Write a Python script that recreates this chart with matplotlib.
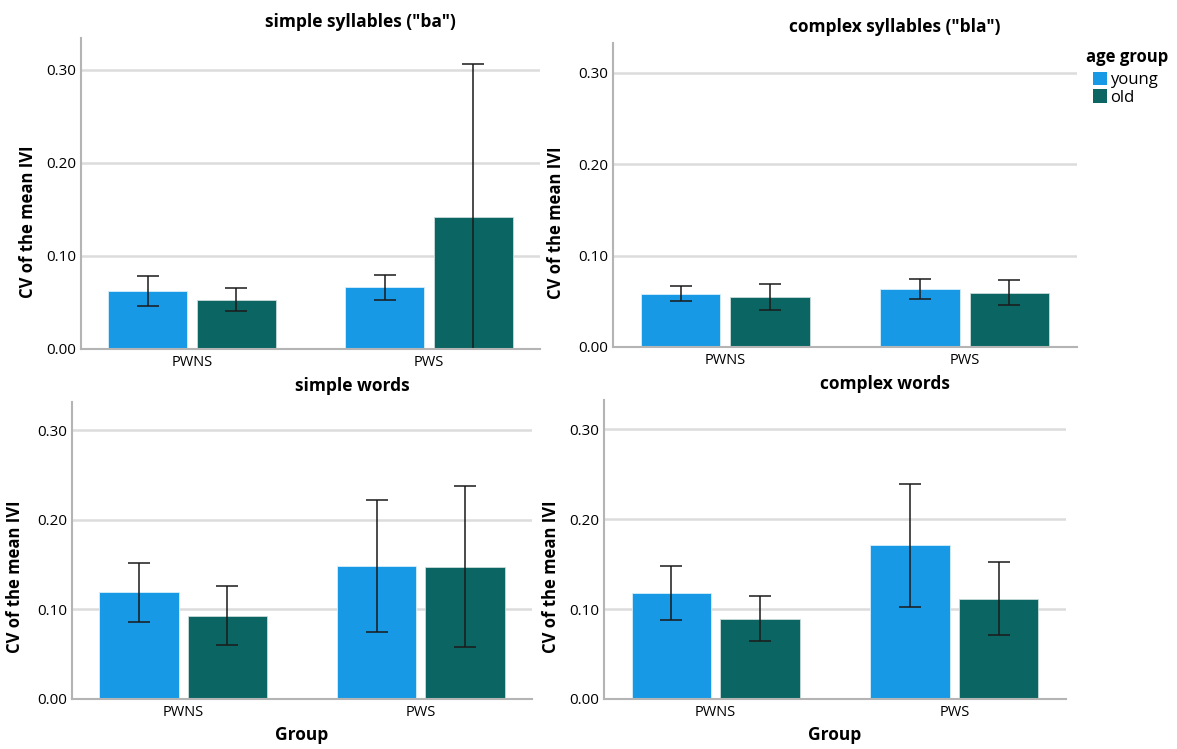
import numpy as np
import matplotlib
matplotlib.use("Agg")
from matplotlib import pyplot as plt
from matplotlib.patches import Patch

plt.rcParams['font.family'] = ['Open Sans', 'DejaVu Sans']

groups = ["PWNS", "PWS"]
ages = ["young", "old"]
titles = ['simple syllables ("ba")', 'complex syllables ("bla")',
          'simple words', 'complex words']

# mean, lower CI, upper CI for each panel (order: PWNS, PWS)
young_mean = [[0.0624, 0.0664], [0.0583, 0.0631], [0.1191, 0.1485], [0.1179, 0.1709]]
young_lo = [[0.0464, 0.0524], [0.0503, 0.0521], [0.0863, 0.0752], [0.0879, 0.1027]]
young_hi = [[0.0788, 0.0799], [0.0671, 0.0747], [0.1518, 0.2222], [0.1479, 0.2388]]
old_mean = [[0.0532, 0.1416], [0.0547, 0.0591], [0.0930, 0.1474], [0.0894, 0.1116]]
old_lo = [[0.0410, 0.0000], [0.0401, 0.0456], [0.0599, 0.0581], [0.0645, 0.0716]]
old_hi = [[0.0653, 0.3068], [0.0689, 0.0733], [0.1265, 0.2374], [0.1149, 0.1524]]

yticks = [0.0, 0.1, 0.2, 0.3]
ytick_labels = ["0.00", "0.10", "0.20", "0.30"]

c_young = "#1799e5"
c_old = "#0b6562"

W, H = 1177, 749
# axes rectangles in pixels: left, top, right, bottom
rects_px = [(81, 38, 540, 349), (613, 43, 1077, 347),
            (72, 402, 532, 699), (604, 400, 1066, 699)]
ymaxes = [0.3344, 0.3326, 0.3315, 0.3326]
ylab_x = [-0.096, -0.103, -0.104, -0.095]

fig = plt.figure(figsize=(W / 100, H / 100), dpi=100)

x = np.arange(len(groups))
bw = 0.333
off = 0.186

for i in range(4):
    l, t, r, b = rects_px[i]
    ax = fig.add_axes([l / W, 1 - b / H, (r - l) / W, (b - t) / H])
    ym, yl, yh = np.array(young_mean[i]), np.array(young_lo[i]), np.array(young_hi[i])
    om, ol, oh = np.array(old_mean[i]), np.array(old_lo[i]), np.array(old_hi[i])

    ax.bar(x - off, ym, bw, color=c_young, edgecolor="#d8eefa", linewidth=0.6, zorder=2)
    ax.bar(x + off, om, bw, color=c_old, edgecolor="#c9dcdb", linewidth=0.6, zorder=2)
    ax.errorbar(x - off, ym, yerr=[ym - yl, yh - ym], fmt="none", ecolor="#1a1a1a",
                elinewidth=1.1, capsize=8, capthick=1.1, zorder=3)
    ax.errorbar(x + off, om, yerr=[om - ol, oh - om], fmt="none", ecolor="#1a1a1a",
                elinewidth=1.1, capsize=8, capthick=1.1, zorder=3)

    ax.set_xlim(-0.468, 1.468)
    ax.set_ylim(0, ymaxes[i])
    ax.set_yticks(yticks)
    ax.set_yticklabels(ytick_labels, fontsize=11)
    ax.set_xticks(x)
    ax.set_xticklabels(groups, fontsize=10.5)
    ax.tick_params(length=0)
    ax.tick_params(axis="y", pad=3.5)
    ax.tick_params(axis="x", pad=4)
    ax.yaxis.grid(True, color="#dcdcdc", linewidth=1.8, zorder=0)
    ax.set_axisbelow(True)
    for s in ["top", "right"]:
        ax.spines[s].set_visible(False)
    for s in ["left", "bottom"]:
        ax.spines[s].set_color("#b4b4b4")
        ax.spines[s].set_linewidth(1.5)
        ax.spines[s].set_zorder(4)

    # SPSS puts the panel title a bit right of the plot centre
    ax.set_title(titles[i], fontsize=12.5, fontweight="bold", pad=8,
                 x=0.5 + 50 / (r - l))
    ax.set_ylabel("CV of the mean IVI", fontsize=12, fontweight="bold")
    ax.yaxis.set_label_coords(ylab_x[i], 0.41)
    if i >= 2:
        ax.set_xlabel("Group", fontsize=12.5, fontweight="bold", labelpad=5)

fig.text(1086 / W, 1 - 57 / H, "age group", fontsize=12, fontweight="bold",
         ha="left", va="center")
handles = [Patch(facecolor=c_young, edgecolor="none"), Patch(facecolor=c_old, edgecolor="none")]
fig.legend(handles, ages, loc="upper left",
           bbox_to_anchor=(1093 / W, 1 - 72 / H), frameon=False, fontsize=12,
           handlelength=0.85, handleheight=0.85, handletextpad=0.15,
           labelspacing=0.05, borderpad=0, borderaxespad=0)

fig.savefig("out.png", dpi=100)
